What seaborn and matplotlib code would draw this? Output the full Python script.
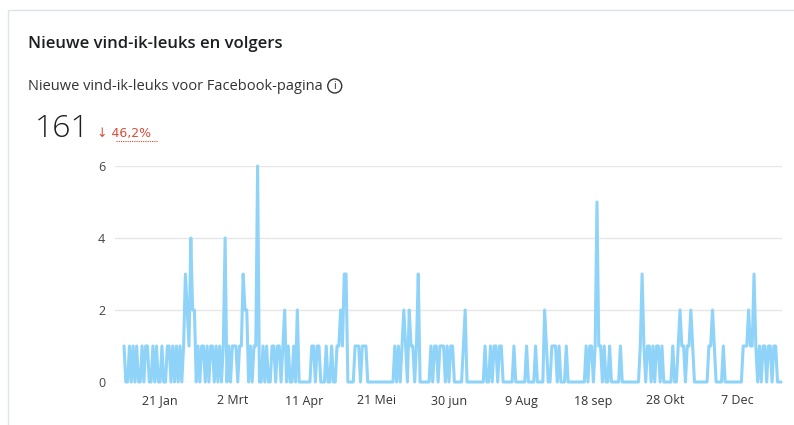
import matplotlib
matplotlib.use("Agg")
import matplotlib.pyplot as plt
import seaborn as sns
import pandas as pd
from matplotlib.patches import Circle, Rectangle
from matplotlib.transforms import IdentityTransform

# daily new page likes
jan = [1,0,0,1,0,1,0,1,0,0, 1,0,1,1,0,0,1,0,1,0, 0,1,0,0,1,1,0,1,0,1, 0]
feb = [1,0,1,3,2,1,4,2,2,0, 1,0,1,1,0,1,0,1,1,0, 1,0,1,0,1,4,0,1]
mar = [0,1,1,1,0,1,1,3,2,2, 0,1,0,1,1,6,0,0,1,0, 1,0,0,1,1,0,1,1,0,1, 2]
apr = [0,1,0,0,1,0,2,0,0,0, 0,0,0,0,1,1,0,1,1,0, 0,0,1,0,0,1,0,0,1,1]
may = [2,1,3,3,0,0,0,0,1,1, 1,0,1,1,1,0,0,0,0,0, 0,0,0,0,0,0,0,0,0,0, 1]
jun = [0,1,0,1,2,1,0,2,1,1, 0,1,3,0,0,0,0,0,0,1, 0,1,1,0,1,1,1,0,1,0]
jul = [1,1,0,0,0,0,0,1,2,0, 0,0,0,0,0,0,0,0,0,1, 0,0,1,0,1,1,0,1,1,0, 0]
aug = [0,0,0,0,1,0,0,0,0,0, 0,1,0,0,0,0,1,0,0,0, 0,2,1,0,0,1,1,1,0,1, 0]
sep = [0,0,1,0,0,0,0,0,0,0, 0,0,0,1,0,1,1,0,1,5, 1,1,0,1,0,0,1,0,0,0]
okt = [0,0,1,0,0,0,0,0,0,0, 0,0,0,1,3,1,0,1,1,0, 1,0,1,1,0,1,0,0,0,0, 0]
nov = [1,0,0,1,2,1,1,0,1,1, 2,1,0,0,0,0,0,0,0,0, 1,1,2,1,0,0,0,0,1,0]
dec = [0,0,0,0,0,0,0,0,0,1, 1,1,2,1,1,3,1,0,1,0, 1,1,0,1,1,0,1,1,0,0, 0]

tick_dates = ["2023-01-21", "2023-03-02", "2023-04-11", "2023-05-21", "2023-06-30",
              "2023-08-09", "2023-09-18", "2023-10-28", "2023-12-07"]
tick_labels = ["21 Jan", "2 Mrt", "11 Apr", "21 Mei", "30 jun",
               "9 Aug", "18 sep", "28 Okt", "7 Dec"]

values = jan + feb + mar + apr + may + jun + jul + aug + sep + okt + nov + dec
df = pd.DataFrame({
    "datum": pd.date_range("2023-01-01", periods=len(values), freq="D"),
    "likes": values,
})

sns.set_theme(style="white")
plt.rcParams["font.family"] = ["Open Sans", "DejaVu Sans"]

W, H = 794, 425
fig = plt.figure(figsize=(W / 100, H / 100), dpi=100)
fig.patch.set_facecolor("white")

# card outline
fig.patches.append(Rectangle((8 / W, -0.1), 2, 1 - 10 / H + 0.1, transform=fig.transFigure,
                             facecolor="none", edgecolor="#dce3eb", linewidth=1))

ax = fig.add_axes([115 / W, 1 - 382 / H, (782 - 115) / W, (382 - 166) / H])
sns.lineplot(data=df, x="datum", y="likes", ax=ax, color="#8fd3f8",
             linewidth=2.2, clip_on=False)

ax.set_ylim(0, 6)
ax.set_yticks([0, 2, 4, 6])
ax.set_xlim(pd.Timestamp("2022-12-27"), pd.Timestamp("2023-12-31 12:00"))
ax.set_xticks(pd.to_datetime(tick_dates))
ax.set_xticklabels(tick_labels)
ax.set_xlabel("")
ax.set_ylabel("")
ax.yaxis.grid(True, color="#e6e6e6", linewidth=1)
ax.xaxis.grid(False)
ax.set_axisbelow(True)
for s in ax.spines.values():
    s.set_visible(False)
ax.tick_params(axis="y", length=0, pad=7, labelsize=9, labelcolor="#444444")
ax.tick_params(axis="x", length=0, pad=9, labelsize=9, labelcolor="#333333")

# header texts
fig.text(28 / W, 1 - 44 / H, "Nieuwe vind-ik-leuks en volgers", fontsize=12,
         fontweight="semibold", va="center", color="#1c1e21")
sub = fig.text(28 / W, 1 - 86 / H, "Nieuwe vind-ik-leuks voor Facebook-pagina",
               fontsize=10.5, va="center", color="#333333")
fig.text(35 / W, 1 - 129 / H, "161", fontsize=23, fontweight="light",
         va="center", color="#1c1e21")
fig.text(97 / W, 1 - 133 / H, "\u2193 46,2%", fontsize=9, va="center",
         color="#d64c38", family=["DejaVu Sans"])
fig.lines.append(plt.Line2D([116 / W, 157 / W], [1 - 141 / H, 1 - 141 / H],
                            transform=fig.transFigure, color="#d64c38",
                            linewidth=0.8, linestyle=(0, (1, 1))))

# info icon right after the subtitle, in pixel coordinates
fig.canvas.draw()
bb = sub.get_window_extent(fig.canvas.get_renderer())
cx = bb.x1 + 12
cy = H - 86
fig.patches.append(Circle((cx, cy), 7, transform=IdentityTransform(),
                          facecolor="none", edgecolor="#333333", linewidth=1))
fig.text(cx / W, cy / H, "i", fontsize=7, ha="center", va="center",
         color="#333333", family=["DejaVu Sans"])

fig.savefig("out.png", dpi=100)
